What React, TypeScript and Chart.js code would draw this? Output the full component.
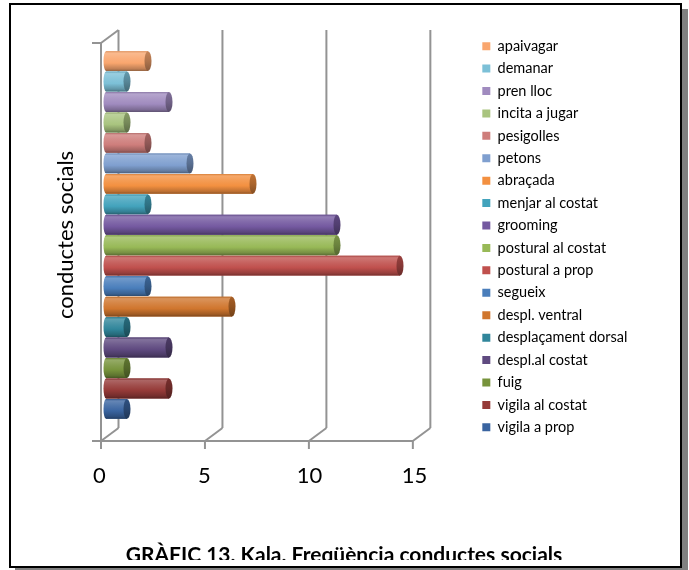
import React, { useEffect, useRef } from 'react';
import { Chart, registerables } from 'chart.js';

Chart.register(...registerables);

// ---- data (legend order, top bar first) ----
const BEHAVIOURS = [
  'apaivagar',
  'demanar',
  'pren lloc',
  'incita a jugar',
  'pesigolles',
  'petons',
  'abraçada',
  'menjar al costat',
  'grooming',
  'postural al costat',
  'postural a prop',
  'segueix',
  'despl. ventral',
  'desplaçament dorsal',
  'despl.al costat',
  'fuig',
  'vigila al costat',
  'vigila a prop',
];
const FREQUENCIES = [2, 1, 3, 1, 2, 4, 7, 2, 11, 11, 14, 2, 6, 1, 3, 1, 3, 1];
const COLORS = [
  '#F9A66E', '#7CC0D7', '#A08BBF', '#A9C47F', '#CE7D7B', '#7F9FCF',
  '#F39040', '#43A3BC', '#7459A0', '#98B957', '#C0504D', '#4A7EBB',
  '#D0762E', '#31869B', '#5F4A80', '#77933C', '#953A38', '#3A64A0',
];
const CATEGORY = ['Kala'];
const X_TICKS = [0, 5, 10, 15];
const Y_TITLE = 'conductes socials';
const TITLE = 'GRÀFIC 13. Kala. Freqüència conductes socials';

// ---- layout constants ----
const W = 689;
const H = 560;
const FONT = 'Lato, "Open Sans", sans-serif';
const PLOT_LEFT = 106;
const UNIT = 21;
const LEGEND_LEFT = 474.4;
const X_MAX = (LEGEND_LEFT - PLOT_LEFT) / UNIT;
const PAD_TOP = 31;
const PLOT_BOTTOM = 439;
const TITLE_PAD_BOTTOM = -7.6;
const TITLE_H = 21 * 1.2 + TITLE_PAD_BOTTOM;
const X_AXIS_H = H - PLOT_BOTTOM - TITLE_H;
const Y_TITLE_CENTER = 66;
const GRID = '#939393';

function mix(hex: string, target: number, t: number) {
  const n = parseInt(hex.slice(1), 16);
  const r = (n >> 16) & 255, g = (n >> 8) & 255, b = n & 255;
  const f = (c: number) => Math.round(c + (target - c) * t);
  return `rgb(${f(r)},${f(g)},${f(b)})`;
}

const wallsPlugin = {
  id: 'walls3d',
  beforeDatasetsDraw(chart: any) {
    const xs = chart.scales.x;
    const ca = chart.chartArea;
    if (!xs || !ca) return;
    const ctx = chart.ctx;
    const p0 = xs.getPixelForValue(0);
    const front = (v: number) => p0 - 5 + (xs.getPixelForValue(v) - p0) * 0.99;
    const fb = ca.bottom + 2;
    const ft = ca.top + 12;
    const dx = 17.5;
    const dy = 13;
    const line = (x1: number, y1: number, x2: number, y2: number) => {
      ctx.beginPath();
      ctx.moveTo(x1, y1);
      ctx.lineTo(x2, y2);
      ctx.stroke();
    };
    ctx.save();
    ctx.strokeStyle = GRID;
    ctx.lineWidth = 2;
    ctx.lineCap = 'butt';
    X_TICKS.forEach((v) => {
      const fx = front(v);
      line(fx, fb, fx + dx, fb - dy);
      line(fx + dx, fb - dy, fx + dx, ca.top - 1);
      line(fx, fb - 1, fx, fb + 8);
    });
    const f0 = front(0);
    const fEnd = front(X_TICKS[X_TICKS.length - 1]);
    line(f0 - 9, fb, fEnd, fb);
    line(f0, fb, f0, ft);
    line(f0 - 9, ft, f0, ft);
    line(f0, ft, f0 + dx, ft - dy);
    ctx.restore();
  },
};

const cylinderPlugin = {
  id: 'cylinders',
  afterDatasetsDraw(chart: any) {
    const ctx = chart.ctx;
    ctx.save();
    chart.data.datasets.forEach((ds: any, i: number) => {
      const meta = chart.getDatasetMeta(i);
      if (meta.hidden) return;
      const base = COLORS[i];
      meta.data.forEach((el: any) => {
        const { x, y, base: b, height } = el.getProps(['x', 'y', 'base', 'height'], true);
        const top = y - height / 2;
        const bottom = y + height / 2;
        const left = Math.min(b, x);
        const right = Math.max(b, x);
        const g = ctx.createLinearGradient(0, top, 0, bottom);
        g.addColorStop(0, mix(base, 0, 0.12));
        g.addColorStop(0.1, mix(base, 255, 0.22));
        g.addColorStop(0.35, mix(base, 255, 0.1));
        g.addColorStop(0.6, base);
        g.addColorStop(0.88, mix(base, 0, 0.22));
        g.addColorStop(1, mix(base, 0, 0.4));
        ctx.fillStyle = g;
        ctx.beginPath();
        ctx.moveTo(right, top);
        ctx.lineTo(left, top);
        ctx.ellipse(left, y, 2.5, height / 2, 0, -Math.PI / 2, Math.PI / 2, true);
        ctx.lineTo(right, bottom);
        ctx.closePath();
        ctx.fill();
        const cg = ctx.createLinearGradient(0, top, 0, bottom);
        cg.addColorStop(0, mix(base, 0, 0.2));
        cg.addColorStop(0.5, mix(base, 0, 0.3));
        cg.addColorStop(1, mix(base, 0, 0.45));
        ctx.fillStyle = cg;
        ctx.beginPath();
        ctx.ellipse(right, y, 3.5, height / 2, 0, 0, Math.PI * 2);
        ctx.fill();
      });
    });
    ctx.restore();
  },
};

export default function App() {
  const ref = useRef<HTMLCanvasElement | null>(null);

  useEffect(() => {
    if (!ref.current) return;
    const datasets = BEHAVIOURS.map((label, i) => ({
      label,
      data: [FREQUENCIES[i]],
      backgroundColor: COLORS[i],
      borderWidth: 0,
      categoryPercentage: 0.9027,
      barPercentage: 0.97,
    }));
    const chart = new Chart(ref.current, {
      type: 'bar',
      data: { labels: CATEGORY, datasets },
      options: {
        indexAxis: 'y',
        animation: false,
        responsive: false,
        devicePixelRatio: 1,
        layout: { padding: { top: PAD_TOP, left: 48, right: 49, bottom: 0 } },
        scales: {
          x: {
            type: 'linear',
            min: 0,
            max: X_MAX,
            grid: { display: false, drawTicks: false },
            border: { display: false },
            afterBuildTicks: (s: any) => {
              s.ticks = X_TICKS.map((v) => ({ value: v }));
            },
            afterFit: (s: any) => {
              s.height = X_AXIS_H;
            },
            ticks: {
              color: '#000',
              padding: 24,
              labelOffset: -6.5,
              maxRotation: 0,
              autoSkip: false,
              font: { family: FONT, size: 22 },
            },
          },
          y: {
            type: 'category',
            grid: { display: false, drawTicks: false },
            border: { display: false },
            ticks: { display: false },
            afterFit: (s: any) => {
              const pl = s.chart.options.layout.padding.left || 0;
              s.width = PLOT_LEFT - pl;
            },
            title: {
              display: true,
              text: Y_TITLE,
              color: '#000',
              font: { family: FONT, size: 22 },
              padding: { top: Y_TITLE_CENTER - 13.2 - 48, bottom: 0 },
            },
          },
        },
        plugins: {
          tooltip: { enabled: false },
          legend: {
            position: 'right',
            align: 'start',
            maxWidth: 320,
            labels: {
              boxWidth: 8,
              boxHeight: 8,
              padding: 7.92,
              color: '#000',
              font: { family: FONT, size: 14.5 },
            },
          },
          title: {
            display: true,
            text: TITLE,
            position: 'bottom',
            color: '#000',
            font: { family: FONT, size: 21, weight: 'bold' },
            padding: { top: 0, bottom: TITLE_PAD_BOTTOM },
          },
        },
      },
      plugins: [wallsPlugin, cylinderPlugin],
    } as any);

    const lw = (chart as any).legend ? (chart as any).legend.width : 166;
    const R = W - LEGEND_LEFT - lw;
    const L = R - 1;
    (chart.options as any).layout.padding = { top: PAD_TOP, left: L, right: R, bottom: 0 };
    (chart.options as any).scales.y.title.padding = { top: Y_TITLE_CENTER - 13.2 - L, bottom: 0 };
    chart.update();

    return () => chart.destroy();
  }, []);

  return (
    <div style={{ position: 'absolute', left: 0, top: 0, width: W, height: 570 }}>
      <div
        style={{
          position: 'absolute',
          left: 9,
          top: 3,
          width: 673,
          height: 565,
          border: '2px solid #000',
          boxSizing: 'border-box',
          background: '#fff',
          boxShadow: '6px 6px 0 #808080',
        }}
      />
      <canvas
        ref={ref}
        width={W}
        height={H}
        style={{ position: 'absolute', left: 0, top: 0, width: W, height: H }}
      />
    </div>
  );
}
